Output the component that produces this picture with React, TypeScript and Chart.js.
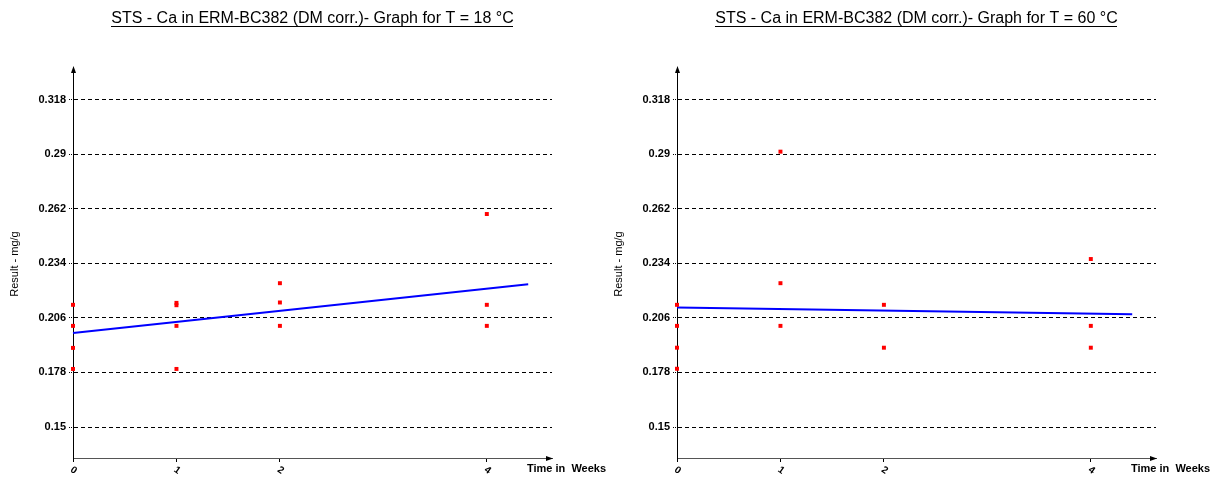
import React, { useEffect, useRef } from "react";
import { Chart, registerables } from "chart.js";

Chart.register(...registerables);

const FONT = '"Liberation Sans", Arial, sans-serif';

const yTickValues = [0.15, 0.178, 0.206, 0.234, 0.262, 0.29, 0.318];
const xTickValues = [0, 1, 2, 4];
const yMin = 0.1341;
const yMax = 0.3332;
const xMin = 0;
const xMax = 4.63;

const yAxisTitle = "Result - mg/g";
const xAxisTitle = "Time in  Weeks";

const title18 = "STS - Ca in ERM-BC382 (DM corr.)- Graph for T = 18 °C";
const weeks18 = [0, 0, 0, 0, 1, 1, 1, 1, 2, 2, 2, 4, 4, 4];
const results18 = [0.2127, 0.2019, 0.1906, 0.1798, 0.2137, 0.2125, 0.2019, 0.1798, 0.2238, 0.2139, 0.2019, 0.2593, 0.2127, 0.2019];
const fitWeeks18 = [0, 4.4];
const fitResults18 = [0.1983, 0.2233];

const title60 = "STS - Ca in ERM-BC382 (DM corr.)- Graph for T = 60 °C";
const weeks60 = [0, 0, 0, 0, 1, 1, 1, 2, 2, 4, 4, 4];
const results60 = [0.2127, 0.2019, 0.1907, 0.1799, 0.2913, 0.2238, 0.2019, 0.2127, 0.1907, 0.2362, 0.2019, 0.1907];
const fitWeeks60 = [0, 4.4];
const fitResults60 = [0.2113, 0.2079];

const decorPlugin = {
  id: "decor",
  afterDraw(chart: any, _args: any, opts: any) {
    const { ctx, chartArea: a } = chart;
    ctx.save();
    ctx.fillStyle = "#000";
    ctx.font = `16px ${FONT}`;
    ctx.textAlign = "center";
    ctx.textBaseline = "alphabetic";
    const cx = (a.left + a.right) / 2;
    ctx.fillText(opts.title, cx, 23);
    const w = ctx.measureText(opts.title).width;
    ctx.fillRect(Math.round(cx - w / 2), 26, Math.round(w), 1);
    // y arrow
    ctx.beginPath();
    ctx.moveTo(a.left + 0.5, a.top - 4);
    ctx.lineTo(a.left - 2, a.top + 3);
    ctx.lineTo(a.left + 3, a.top + 3);
    ctx.closePath();
    ctx.fill();
    // x arrow
    ctx.beginPath();
    ctx.moveTo(a.right + 1, a.bottom + 0.5);
    ctx.lineTo(a.right - 6, a.bottom - 2);
    ctx.lineTo(a.right - 6, a.bottom + 3);
    ctx.closePath();
    ctx.fill();
    // x axis title
    ctx.font = `bold 11px ${FONT}`;
    ctx.textAlign = "left";
    ctx.textBaseline = "middle";
    ctx.fillText(opts.xTitle, a.right - 25, a.bottom + 11);
    ctx.restore();
  },
};

type Props = {
  title: string;
  weeks: number[];
  results: number[];
  fitWeeks: number[];
  fitResults: number[];
  left: number;
};

function StabilityChart({ title, weeks, results, fitWeeks, fitResults, left }: Props) {
  const ref = useRef<HTMLCanvasElement>(null);
  useEffect(() => {
    const chart = new Chart(ref.current!, {
      type: "scatter",
      data: {
        datasets: [
          {
            data: weeks.map((w, i) => ({ x: w, y: results[i] })),
            backgroundColor: "#ff0000",
            borderColor: "#ff0000",
            pointStyle: "rect",
            pointRadius: 2.8,
            pointBorderWidth: 0,
            clip: false,
          } as any,
          {
            data: fitWeeks.map((w, i) => ({ x: w, y: fitResults[i] })),
            showLine: true,
            borderColor: "#0000ff",
            borderWidth: 2,
            pointRadius: 0,
            fill: false,
            tension: 0,
            clip: false,
          } as any,
        ],
      },
      options: {
        responsive: false,
        animation: false,
        layout: { padding: { top: 70, right: 59, left: 0, bottom: 0 } },
        plugins: {
          legend: { display: false },
          tooltip: { enabled: false },
          decor: { title, xTitle: xAxisTitle },
        } as any,
        scales: {
          x: {
            type: "linear",
            min: xMin,
            max: xMax,
            afterBuildTicks: (s: any) => {
              s.ticks = xTickValues.map((v) => ({ value: v }));
            },
            afterFit: (s: any) => {
              s.height = 21;
            },
            grid: { drawOnChartArea: false, drawTicks: true, tickLength: 4, tickColor: "#000" },
            border: { color: "#555", width: 1 },
            ticks: {
              autoSkip: false,
              minRotation: -35,
              maxRotation: -35,
              padding: 5,
              labelOffset: 3,
              color: "#000",
              font: { family: FONT, size: 10, weight: "bold" },
              callback: (v: any) => String(v),
            },
          },
          y: {
            type: "linear",
            min: yMin,
            max: yMax,
            afterBuildTicks: (s: any) => {
              s.ticks = yTickValues.map((v) => ({ value: v }));
            },
            afterFit: (s: any) => {
              s.width = 73;
            },
            grid: { color: "#000", lineWidth: 1, tickLength: 4, tickColor: "#000", tickBorderDash: [1, 1] },
            border: { color: "#000", width: 1, dash: [4, 3] },
            title: {
              display: true,
              text: yAxisTitle,
              color: "#000",
              font: { family: FONT, size: 11 },
              padding: { top: 8, bottom: 0 },
            },
            ticks: {
              padding: 3,
              color: "#000",
              font: { family: FONT, size: 11, weight: "bold" },
              callback: (v: any) => String(v),
            },
          },
        },
      } as any,
      plugins: [decorPlugin as any],
    });
    return () => chart.destroy();
  }, []);
  return (
    <canvas
      ref={ref}
      width={611}
      height={479}
      style={{ position: "absolute", left, top: 0, width: 611, height: 479 }}
    />
  );
}

export default function App() {
  return (
    <div style={{ position: "absolute", left: 0, top: 0, width: 1222, height: 479, background: "#fff" }}>
      <StabilityChart title={title18} weeks={weeks18} results={results18} fitWeeks={fitWeeks18} fitResults={fitResults18} left={0} />
      <StabilityChart title={title60} weeks={weeks60} results={results60} fitWeeks={fitWeeks60} fitResults={fitResults60} left={604} />
    </div>
  );
}
